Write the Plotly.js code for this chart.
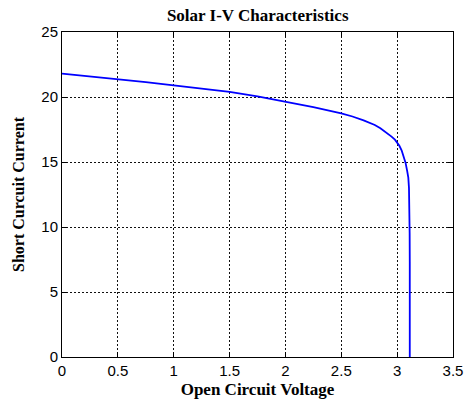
<!DOCTYPE html>
<html>
<head>
<meta charset="utf-8">
<script src="https://cdn.plot.ly/plotly-3.0.1.min.js"></script>
<style>html,body{margin:0;padding:0;background:#fff;}#chart{width:466px;height:399px;}</style>
</head>
<body>
<div id="chart"></div>
<script>
// Open circuit voltage (V) and short circuit current (A)
const voltage = [0, 0.25, 0.5, 0.75, 1.0, 1.25, 1.5, 1.75, 2.0, 2.25, 2.5, 2.6, 2.7, 2.8, 2.85, 2.9, 2.95, 2.98, 3.0, 3.02, 3.04, 3.06, 3.075, 3.09, 3.1, 3.106, 3.11, 3.112, 3.113, 3.113];
const current = [21.8, 21.6, 21.4, 21.15, 20.9, 20.65, 20.4, 20.05, 19.65, 19.22, 18.74, 18.5, 18.2, 17.85, 17.6, 17.3, 16.95, 16.72, 16.52, 16.25, 15.9, 15.4, 14.95, 14.3, 13.8, 13.0, 11.5, 9.5, 7.3, 0];
const xTicks = [0, 0.5, 1, 1.5, 2, 2.5, 3, 3.5];
const xTickText = ['0', '0.5', '1', '1.5', '2', '2.5', '3', '3.5'];
const yTicks = [0, 5, 10, 15, 20, 25];
const yTickText = ['0', '5', '10', '15', '20', '25'];

const trace = {
  x: voltage, y: current, type: 'scatter', mode: 'lines',
  line: {color: '#0000ff', width: 1.8}, hoverinfo: 'skip'
};

const axisCommon = {
  showline: true, linecolor: '#000', linewidth: 1, mirror: 'ticks',
  ticks: 'inside', ticklen: 5, tickcolor: '#000', tickwidth: 1,
  showgrid: true, gridcolor: '#111', gridwidth: 1, griddash: '2px,2px',
  zeroline: false, tickmode: 'array',
  tickfont: {family: 'Liberation Sans, Arial, sans-serif', size: 15, color: '#000'}
};

const layout = {
  width: 466, height: 399,
  margin: {l: 62, r: 13, t: 32, b: 42},
  paper_bgcolor: '#fff', plot_bgcolor: '#fff',
  showlegend: false,
  title: {
    text: '<b>Solar I-V Characteristics</b>',
    font: {family: 'Liberation Serif, Times New Roman, serif', size: 17, color: '#000'},
    x: 0.553, xanchor: 'center', y: 1 - 15/399, yanchor: 'middle'
  },
  xaxis: Object.assign({}, axisCommon, {
    range: [0, 3.5], tickvals: xTicks, ticktext: xTickText,
    title: {text: '<b>Open Circuit Voltage</b>', standoff: 6,
      font: {family: 'Liberation Serif, Times New Roman, serif', size: 17, color: '#000'}}
  }),
  yaxis: Object.assign({}, axisCommon, {
    range: [0, 25], tickvals: yTicks, ticktext: yTickText,
    title: {text: '<b>Short Curcuit Current</b>', standoff: 12,
      font: {family: 'Liberation Serif, Times New Roman, serif', size: 16, color: '#000'}}
  })
};

Plotly.newPlot('chart', [trace], layout, {staticPlot: true, displayModeBar: false});
</script>
</body>
</html>
